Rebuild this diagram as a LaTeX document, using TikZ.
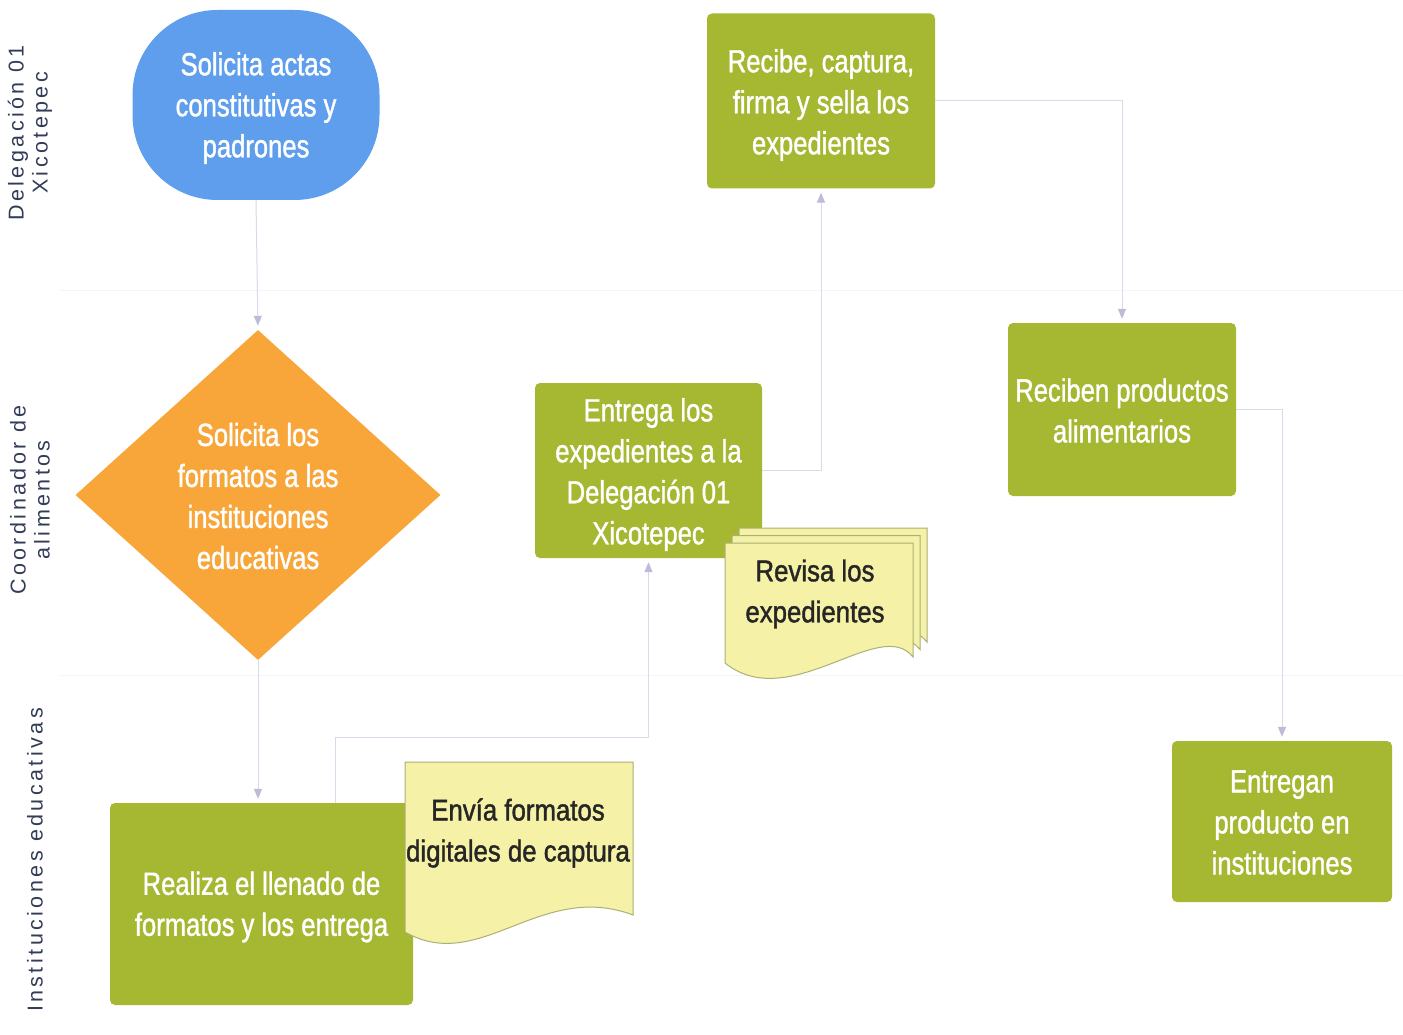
\documentclass[tikz,border=0pt]{standalone}
\usepackage{fontspec}
\setmainfont{Liberation Sans}
\newfontfamily\nar[FakeStretch=0.8,FakeBold=1.2]{Liberation Sans}
\newfontfamily\narb[FakeStretch=0.86,FakeBold=1.4]{Liberation Sans}
\newfontfamily\lanef[LetterSpace=16]{Liberation Sans}
\usetikzlibrary{shapes.geometric,arrows.meta}
\definecolor{bluef}{RGB}{94,158,236}
\definecolor{orangef}{RGB}{248,166,58}
\definecolor{greenf}{RGB}{166,184,50}
\definecolor{docf}{RGB}{245,241,166}
\definecolor{docb}{RGB}{170,176,120}
\definecolor{connc}{RGB}{218,218,234}
\definecolor{arrc}{RGB}{188,188,218}
\definecolor{lanec}{RGB}{50,60,88}
\definecolor{sepc}{RGB}{245,245,245}
\newcommand\revdoc{(725,543) -- (913,543) -- (913,657) .. controls (880,615) and (790,715) .. (725,663) -- cycle}
\begin{document}
\begin{tikzpicture}[x=1pt,y=-1pt,
  wfont/.style={font=\nar\fontsize{32}{41}\selectfont},
  gbox/.style={rectangle, rounded corners=5pt, fill=greenf, inner sep=0pt},
  startbox/.style={rectangle, rounded corners=85pt, fill=bluef, inner sep=0pt},
  wtext/.style={text=white, align=center, inner sep=0pt, wfont},
  btext/.style={text=black!85, align=center, inner sep=0pt, font=\narb\fontsize{30}{41}\selectfont},
  docst/.style={fill=docf, draw=docb, line width=1pt},
  lane/.style={text=lanec, align=center, inner sep=0pt, rotate=90, font=\lanef\fontsize{21.5}{24}\selectfont},
  conn/.style={draw=connc, line width=1pt, shorten >=4pt, -{Triangle[width=8pt,length=10pt,color=arrc]}}
]
\useasboundingbox[fill=white] (0,0) rectangle (1403,1035);

% lane separators (very faint)
\draw[sepc, line width=1pt] (60,290) -- (1403,290);
\draw[sepc, line width=1pt] (60,675) -- (1403,675);

% lane labels
\node[lane] (l1) at (30,133) {Delegación 01\\Xicotepec};
\node[lane] (l2) at (30,500) {Coordinador de\\alimentos};
\node[lane] (l3) at (35,860) {Instituciones educativas};

% shapes
\node[startbox, minimum width=247pt, minimum height=190pt] (start) at (256,105) {};
\node[diamond, fill=orangef, minimum width=365pt, minimum height=330pt, inner sep=0pt] (diam) at (258,495) {};
\node[gbox, minimum width=228pt, minimum height=175pt] (recibe) at (821,101) {};
\node[gbox, minimum width=227pt, minimum height=175pt] (entrega) at (648.5,470.5) {};
\node[gbox, minimum width=228pt, minimum height=173pt] (reciben) at (1122,409.5) {};
\node[gbox, minimum width=303pt, minimum height=202pt] (realiza) at (261.5,904) {};
\node[gbox, minimum width=220pt, minimum height=161pt] (entregan) at (1282,821.5) {};

% texts
\node[wtext] (startT) at ([yshift=-3pt]start.center) {Solicita actas\\constitutivas y\\padrones};
\node[wtext] (diamT) at ([yshift=-1pt]diam.center) {Solicita los\\formatos a las\\instituciones\\educativas};
\node[wtext] (recibeT) at ([yshift=-4pt]recibe.center) {Recibe, captura,\\firma y sella los\\expedientes};
\node[wtext] (entregaT) at ([yshift=-4pt]entrega.center) {Entrega los\\expedientes a la\\Delegación 01\\Xicotepec};
\node[wtext] (recibenT) at ([yshift=-1pt]reciben.center) {Reciben productos\\alimentarios};
\node[wtext] (realizaT) at ([yshift=-3pt]realiza.center) {Realiza el llenado de\\formatos y los entrega};
\node[wtext] (entreganT) at ([yshift=-1pt]entregan.center) {Entregan\\producto en\\instituciones};

% documents
\path[docst] (405,762) -- (633,762) -- (633,915) .. controls (540,880) and (480,975) .. (405,932) -- cycle;
\node[btext] (envia) at (518,833) {Envía formatos\\digitales de captura};

\begin{scope}[shift={(14,-15)}]
\path[docst] \revdoc;
\end{scope}
\begin{scope}[shift={(7,-7.5)}]
\path[docst] \revdoc;
\end{scope}
\path[docst] \revdoc;
\node[btext] (revisa) at (815,594) {Revisa los\\expedientes};

% connectors
\coordinate (j1) at (648.5,737);
\draw[conn] (start.south) -- (diam.north);
\draw[conn] (diam.south) -- (diam.south |- realiza.north);
\draw[conn] ([xshift=74pt]realiza.north) |- (j1) -- (entrega.south);
\draw[conn] (entrega.east) -| (recibe.south);
\draw[conn] (recibe.east) -| (reciben.north);
\draw[conn] (reciben.east) -| (entregan.north);
\end{tikzpicture}
\end{document}
